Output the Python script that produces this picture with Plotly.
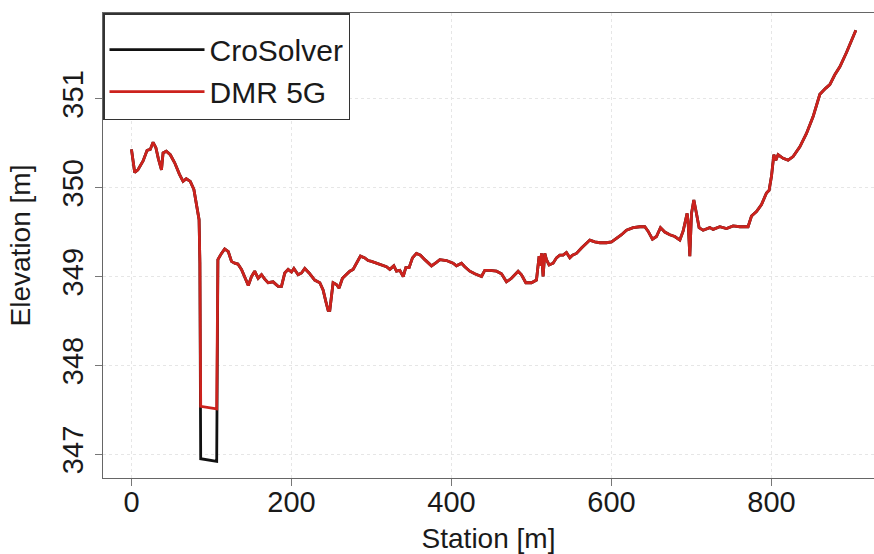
import plotly.graph_objects as go

# ---- data ----
station = [0, 4, 8, 14.5, 19.5, 23.5, 27, 30.5, 33.5, 37.5, 39.5, 43.5, 48.5, 54, 60, 64.5, 68.5, 73.5, 78, 82,
           84.5, 85.5, 86.5, 106.5, 108, 112.5, 116.5, 121, 125, 129, 133, 137.5, 142, 146, 150, 154, 158.3,
           162.5, 166.6, 170.8, 177, 183.3, 187.5, 191.6, 195.8, 200, 203, 208.3, 212.5, 216.6, 222, 229,
           235.4, 239.5, 242.9, 245.8, 247.9, 250, 252, 256.2, 259.5, 263.7, 268.7, 272.9, 277, 281.2, 286.2,
           291.6, 295.8, 300, 306.2, 312.5, 318.7, 322.9, 327.9, 331.2, 335.4, 339.6, 342.9, 347, 351.2,
           356.2, 361.2, 366.6, 375, 381.2, 385.4, 393.7, 402, 406.2, 412.5, 416.6, 422.9, 429.1, 437.5,
           441.6, 447.9, 456.2, 462.5, 468.7, 475, 483.3, 487.5, 492.9, 500, 506.2, 509.5, 511, 512.5, 514.5,
           516.6, 518.7, 522, 527, 531.2, 535.4, 539.5, 543.7, 547.9, 551.2, 556.2, 562.5, 566.6, 572.9,
           579.1, 585.4, 593.7, 600, 606.2, 612.5, 618.7, 627, 635.4, 641.6, 645.7, 651.2, 656.2, 661.2,
           666.6, 672.9, 679.1, 685.4, 689.5, 692.9, 694.5, 695.7, 697.9, 700, 702.9, 706.2, 709.5, 714.5,
           722.9, 727, 735.4, 743.7, 752, 760.4, 770.7, 775, 781.2, 787.5, 793.7, 797, 800, 802.9, 805.4,
           808.2, 814.5, 820.7, 827, 835.4, 843.7, 852, 860.4, 867.9, 872.9, 879.1, 885.4, 893.7, 900, 905.4]

dmr_elev = [350.43, 350.17, 350.20, 350.30, 350.42, 350.43, 350.51, 350.45, 350.33, 350.20, 350.39, 350.41,
            350.37, 350.28, 350.15, 350.07, 350.10, 350.07, 349.98, 349.79, 349.64, 349.15, 347.54, 347.51,
            349.19, 349.26, 349.31, 349.28, 349.17, 349.15, 349.14, 349.08, 348.98, 348.90, 349.00, 349.06,
            348.98, 349.02, 348.97, 348.93, 348.94, 348.89, 348.89, 349.04, 349.08, 349.05, 349.09, 349.02,
            349.04, 349.09, 349.04, 348.96, 348.93, 348.85, 348.72, 348.62, 348.62, 348.77, 348.93, 348.91,
            348.87, 348.98, 349.02, 349.06, 349.08, 349.15, 349.23, 349.21, 349.18, 349.17, 349.15, 349.13,
            349.11, 349.08, 349.12, 349.06, 349.07, 349.00, 349.10, 349.10, 349.21, 349.26, 349.24, 349.19,
            349.12, 349.16, 349.19, 349.18, 349.15, 349.12, 349.15, 349.11, 349.06, 349.03, 349.00, 349.07,
            349.07, 349.06, 349.03, 348.94, 348.98, 349.06, 349.02, 348.93, 348.93, 348.96, 349.23, 349.12,
            349.26, 349.00, 349.26, 349.19, 349.13, 349.15, 349.21, 349.24, 349.24, 349.27, 349.21, 349.24,
            349.26, 349.32, 349.36, 349.41, 349.39, 349.38, 349.38, 349.39, 349.43, 349.47, 349.52, 349.55,
            349.56, 349.56, 349.51, 349.42, 349.45, 349.55, 349.50, 349.47, 349.45, 349.41, 349.51, 349.66,
            349.71, 349.62, 349.23, 349.71, 349.86, 349.71, 349.55, 349.52, 349.55, 349.53, 349.56, 349.54,
            349.57, 349.56, 349.56, 349.68, 349.73, 349.81, 349.94, 349.97, 350.13, 350.37, 350.31, 350.37,
            350.33, 350.31, 350.35, 350.46, 350.61, 350.80, 351.05, 351.12, 351.16, 351.27, 351.36, 351.52,
            351.65, 351.77]

# CroSolver follows DMR 5G except in the channel bottom
cro_channel_station = [86.5, 106.5]
cro_channel_elev = [346.95, 346.92]
cro_elev = list(dmr_elev)
for s, e in zip(cro_channel_station, cro_channel_elev):
    cro_elev[station.index(s)] = e

x_ticks = [0, 200, 400, 600, 800]
y_ticks = [347, 348, 349, 350, 351]

FONT = "Arial, Liberation Sans, sans-serif"

fig = go.Figure()
fig.add_trace(go.Scatter(x=station, y=cro_elev, mode="lines", name="CroSolver",
                         line=dict(color="#111111", width=2.8)))
fig.add_trace(go.Scatter(x=station, y=dmr_elev, mode="lines", name="DMR 5G",
                         line=dict(color="#cc221d", width=2.8)))

axis_common = dict(showgrid=True, gridcolor="#e6e6e6", griddash="dot", gridwidth=1,
                   showline=True, linecolor="#666666", linewidth=1.2,
                   ticks="outside", ticklen=7, tickcolor="#777777", tickwidth=1,
                   zeroline=False, tickfont=dict(family=FONT, size=29, color="#1a1a1a"))

fig.update_layout(
    width=874, height=554,
    margin=dict(l=103, r=0, t=13, b=76),
    paper_bgcolor="white", plot_bgcolor="white",
    font=dict(family=FONT, color="#1a1a1a"),
    showlegend=True,
    legend=dict(x=0, y=1, xanchor="left", yanchor="top",
                bgcolor="white", bordercolor="#333333", borderwidth=1.5,
                font=dict(family=FONT, size=30, color="#1a1a1a"),
                title=dict(text="&nbsp;", font=dict(size=7)),
                itemwidth=95, tracegroupgap=0),
    xaxis=dict(range=[-35.6, 928.1], tickvals=x_ticks, mirror=True, ticklabelstandoff=-9,
               title=dict(text="Station [m]", font=dict(family=FONT, size=28), standoff=12),
               **axis_common),
    yaxis=dict(range=[346.733, 351.965], tickvals=y_ticks, tickangle=-90, mirror=False,
               title=dict(text="Elevation [m]", font=dict(family=FONT, size=28), standoff=18),
               **axis_common),
)

fig.write_html("out.html")
